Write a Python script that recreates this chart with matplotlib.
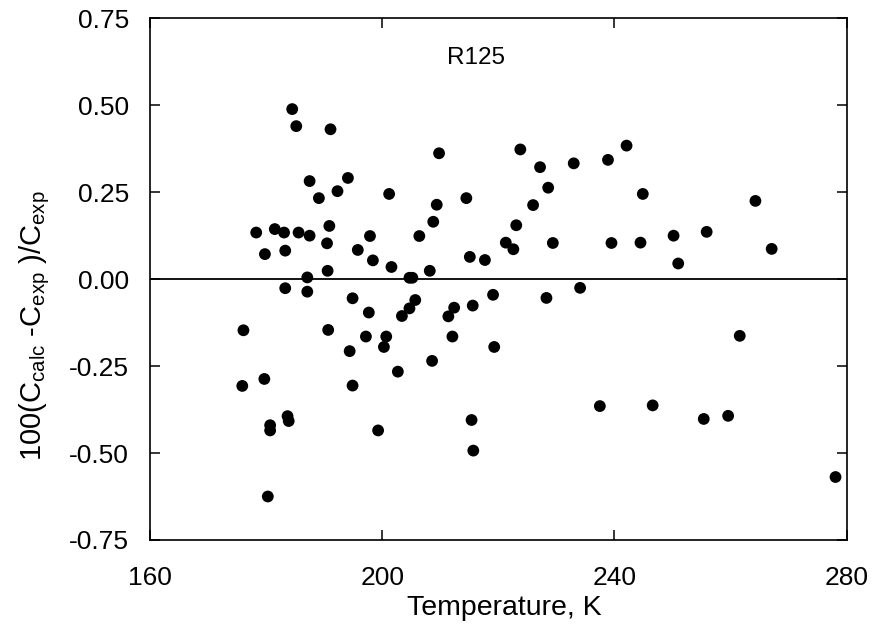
import matplotlib
matplotlib.use("Agg")
from matplotlib import pyplot as plt

plt.rcParams['font.family'] = ['Liberation Sans', 'DejaVu Sans']
plt.rcParams['mathtext.fontset'] = 'custom'
plt.rcParams['mathtext.rm'] = 'Liberation Sans'
plt.rcParams['mathtext.it'] = 'Liberation Sans'

# temperature, K
temperature = [176.1, 175.9, 179.7, 180.7, 180.7, 183.7, 183.9, 180.3, 183.3, 184.5,
               185.2, 191.1, 178.3, 181.5, 183.1, 179.8, 183.3, 185.6, 187.5, 187.5,
               189.1, 192.3, 194.1, 201.2, 190.9, 190.5, 195.8, 197.9, 198.4, 201.6,
               190.6, 187.1, 187.1, 194.9, 197.7, 190.7, 197.2, 200.7, 200.3, 194.4,
               203.4, 202.7, 194.9, 199.3, 209.8, 223.8, 227.2, 228.6, 214.5, 209.4,
               226.0, 208.8, 223.1, 206.4, 221.3, 222.6, 229.4, 215.1, 217.7, 208.2,
               204.7, 205.2, 205.7, 204.7, 211.4, 212.4, 215.6, 219.1, 228.3, 212.1,
               219.3, 208.6, 215.4, 215.7, 233.0, 238.9, 242.1, 244.9, 239.5, 244.5,
               250.2, 251.0, 234.1, 237.5, 246.6, 264.3, 255.9, 267.1, 261.6, 255.4,
               259.6, 278.1]

# 100(Ccalc - Cexp)/Cexp
deviation = [-0.147, -0.307, -0.287, -0.420, -0.435, -0.394, -0.408, -0.625, -0.026, 0.489,
             0.440, 0.431, 0.134, 0.144, 0.134, 0.072, 0.082, 0.134, 0.125, 0.282,
             0.233, 0.253, 0.291, 0.245, 0.153, 0.103, 0.084, 0.124, 0.054, 0.035,
             0.024, 0.005, -0.036, -0.055, -0.096, -0.146, -0.165, -0.165, -0.195, -0.207,
             -0.106, -0.266, -0.306, -0.435, 0.362, 0.373, 0.322, 0.263, 0.233, 0.214,
             0.213, 0.165, 0.155, 0.124, 0.105, 0.086, 0.104, 0.064, 0.055, 0.024,
             0.004, 0.004, -0.060, -0.084, -0.107, -0.082, -0.076, -0.045, -0.054, -0.165,
             -0.195, -0.235, -0.405, -0.493, 0.333, 0.343, 0.384, 0.245, 0.104, 0.105,
             0.125, 0.045, -0.025, -0.365, -0.363, 0.225, 0.136, 0.087, -0.163, -0.402,
             -0.393, -0.569]

fig = plt.figure(figsize=(8.74, 6.3), dpi=100)
ax = fig.add_axes([0.1716, 0.1429, 0.797, 0.828])

ax.axhline(0, color='black', lw=1.3, zorder=1)
ax.scatter(temperature, deviation, s=72, color='black', edgecolors='none', zorder=2)

ax.set_xlim(160, 280)
ax.set_ylim(-0.75, 0.75)
ax.set_xticks([160, 200, 240, 280])
ax.set_yticks([-0.75, -0.5, -0.25, 0, 0.25, 0.5, 0.75])
ax.set_yticklabels(['-0.75', '-0.50', '-0.25', '0.00', '0.25', '0.50', '0.75'])

ax.tick_params(axis='both', direction='in', length=7, width=1.1,
               top=True, right=True, labelsize=19)
ax.tick_params(axis='x', pad=19)
ax.tick_params(axis='y', pad=15)
for sp in ax.spines.values():
    sp.set_linewidth(1.2)

ax.set_xlabel('Temperature, K', fontsize=20.5)
ax.xaxis.set_label_coords(0.509, -0.105)
ax.set_ylabel(r'100(C$_{\mathrm{calc}}$ -C$_{\mathrm{exp}}$ )/C$_{\mathrm{exp}}$', fontsize=21)
ax.yaxis.set_label_coords(-0.14, 0.41)

ax.text(0.468, 0.924, 'R125', transform=ax.transAxes, ha='center', va='center', fontsize=17.5)

plt.savefig('out.png', dpi=100)
